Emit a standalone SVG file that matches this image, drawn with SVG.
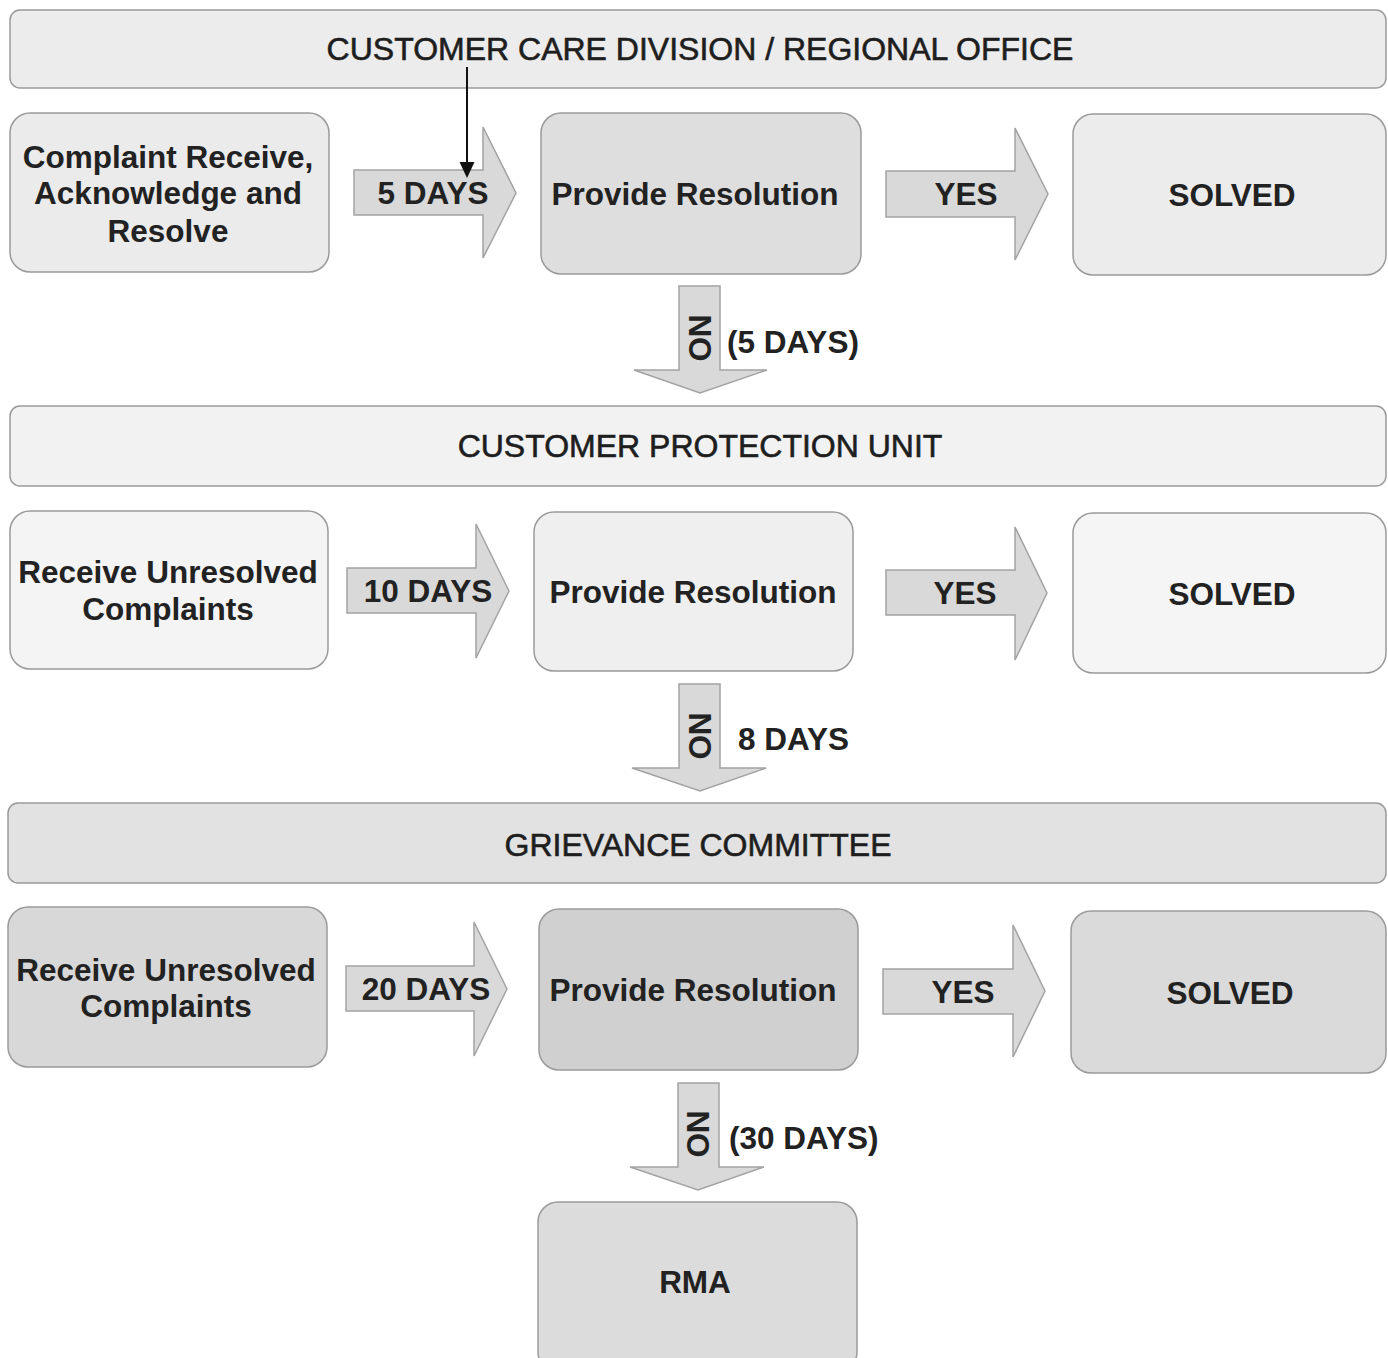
<svg xmlns="http://www.w3.org/2000/svg" width="1388" height="1358" viewBox="0 0 1388 1358">
<defs>
<style>
.banner{stroke:#9a9a9a;stroke-width:1.5}
.box{stroke:#9a9a9a;stroke-width:1.5}
.arr{fill:#d9d9d9;stroke:#a3a3a3;stroke-width:1.5}
.bt{font-family:"Liberation Sans",Arial,sans-serif;font-size:32px;fill:#1e1e1e;stroke:#1e1e1e;stroke-width:0.6;text-anchor:middle;dominant-baseline:central}
.lt{font-family:"Liberation Sans",Arial,sans-serif;font-size:31.5px;font-weight:bold;fill:#222;text-anchor:middle;dominant-baseline:central}
.st{font-family:"Liberation Sans",Arial,sans-serif;font-size:31.5px;font-weight:bold;fill:#222;dominant-baseline:central}
</style>
</defs>
<rect width="1388" height="1358" fill="#ffffff"/>

<g id="banner1"><rect class="banner" x="10" y="10" width="1376" height="78" rx="10" fill="#ececec"/><text class="bt" x="700" y="49">CUSTOMER CARE DIVISION / REGIONAL OFFICE</text></g>
<g id="banner2"><rect class="banner" x="10" y="406" width="1376" height="80" rx="10" fill="#f2f2f2"/><text class="bt" x="700" y="446">CUSTOMER PROTECTION UNIT</text></g>
<g id="banner3"><rect class="banner" x="8" y="803" width="1378" height="80" rx="10" fill="#e2e2e2"/><text class="bt" x="698" y="845">GRIEVANCE COMMITTEE</text></g>

<g id="n1a"><rect class="box" x="10" y="113" width="319" height="159" rx="20" fill="#ebebeb"/><text class="lt" x="168" y="157">Complaint Receive,</text><text class="lt" x="168" y="193">Acknowledge and</text><text class="lt" x="168" y="231">Resolve</text></g>
<g id="n1b"><rect class="box" x="541" y="113" width="320" height="161" rx="20" fill="#dedede"/><text class="lt" x="695" y="194">Provide Resolution</text></g>
<g id="n1c"><rect class="box" x="1073" y="114" width="313" height="161" rx="20" fill="#ececec"/><text class="lt" x="1232" y="195">SOLVED</text></g>

<g id="n2a"><rect class="box" x="10" y="511" width="318" height="158" rx="20" fill="#f4f4f4"/><text class="lt" x="168" y="572">Receive Unresolved</text><text class="lt" x="168" y="609">Complaints</text></g>
<g id="n2b"><rect class="box" x="534" y="512" width="319" height="159" rx="20" fill="#efefef"/><text class="lt" x="693" y="592">Provide Resolution</text></g>
<g id="n2c"><rect class="box" x="1073" y="513" width="313" height="160" rx="20" fill="#f5f5f5"/><text class="lt" x="1232" y="594">SOLVED</text></g>

<g id="n3a"><rect class="box" x="8" y="907" width="319" height="160" rx="20" fill="#d8d8d8"/><text class="lt" x="166" y="970">Receive Unresolved</text><text class="lt" x="166" y="1006">Complaints</text></g>
<g id="n3b"><rect class="box" x="539" y="909" width="319" height="161" rx="20" fill="#d0d0d0"/><text class="lt" x="693" y="990">Provide Resolution</text></g>
<g id="n3c"><rect class="box" x="1071" y="911" width="315" height="162" rx="20" fill="#dadada"/><text class="lt" x="1230" y="993">SOLVED</text></g>

<g id="n4"><rect class="box" x="538" y="1202" width="319" height="170" rx="20" fill="#dcdcdc"/><text class="lt" x="695" y="1282">RMA</text></g>

<g id="connectors">
<path class="arr" d="M354,170 H483 V127 L516,193 L483,258 V215 H354 Z"/>
<text class="lt" x="433" y="193">5 DAYS</text>
<line x1="467" y1="67" x2="467" y2="165" stroke="#111" stroke-width="2"/>
<path d="M459.5,162 L474.5,162 L467,178 Z" fill="#111"/>

<path class="arr" d="M886,171 H1015 V128 L1048,194 L1015,260 V217 H886 Z"/>
<text class="lt" x="966" y="194">YES</text>

<path class="arr" d="M679,286 H720 V370 H767 L700,393 L634,370 H679 Z"/>
<text class="lt" transform="translate(700,338) rotate(90)" x="0" y="0">NO</text>
<text class="st" x="727" y="342">(5 DAYS)</text>

<path class="arr" d="M347,568 H476 V524 L509,591 L476,658 V613 H347 Z"/>
<text class="lt" x="428" y="591">10 DAYS</text>
<path class="arr" d="M886,570 H1015 V527 L1047,593 L1015,660 V615 H886 Z"/>
<text class="lt" x="965" y="593">YES</text>

<path class="arr" d="M679,684 H720 V768 H766 L700,791 L632,768 H679 Z"/>
<text class="lt" transform="translate(700,736) rotate(90)" x="0" y="0">NO</text>
<text class="st" x="738" y="739">8 DAYS</text>

<path class="arr" d="M346,966 H474 V922 L507,989 L474,1056 V1011 H346 Z"/>
<text class="lt" x="426" y="989">20 DAYS</text>
<path class="arr" d="M883,969 H1013 V925 L1045,991 L1013,1057 V1014 H883 Z"/>
<text class="lt" x="963" y="992">YES</text>

<path class="arr" d="M678,1083 H719 V1167 H764 L698,1190 L630,1167 H678 Z"/>
<text class="lt" transform="translate(698,1134) rotate(90)" x="0" y="0">NO</text>
<text class="st" x="729" y="1138">(30 DAYS)</text>
</g>
</svg>
